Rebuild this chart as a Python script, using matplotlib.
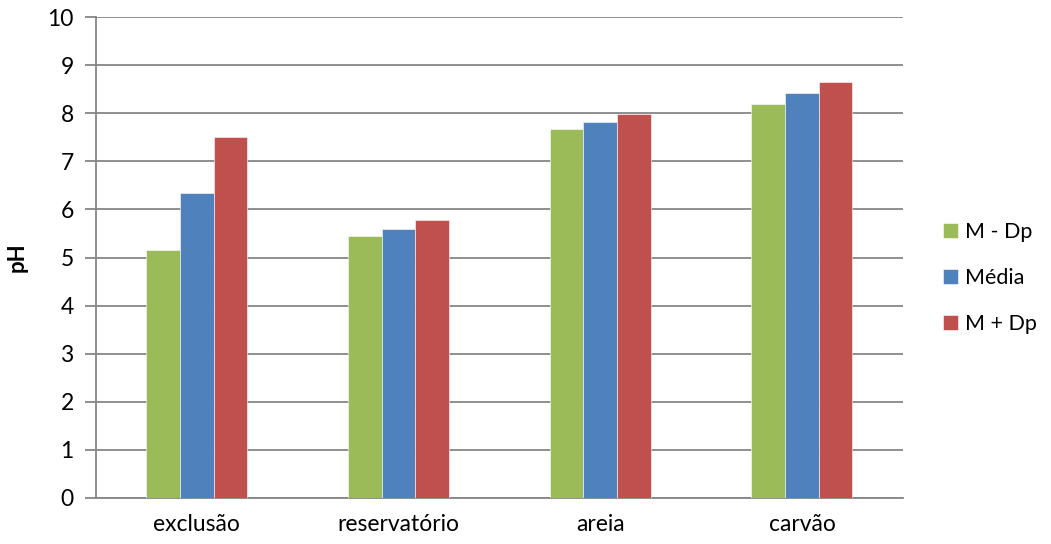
import matplotlib
matplotlib.use("Agg")
import matplotlib.pyplot as plt
import numpy as np

plt.rcParams['font.family'] = ['Lato', 'DejaVu Sans']

categories = ["exclusão", "reservatório", "areia", "carvão"]
series_names = ["M - Dp", "Média", "M + Dp"]
m_minus_dp = [5.16, 5.44, 7.67, 8.19]
media = [6.34, 5.60, 7.83, 8.42]
m_plus_dp = [7.51, 5.78, 7.99, 8.65]
colors = ["#9BBB59", "#4F81BD", "#C0504D"]

fig = plt.figure(figsize=(10.51, 5.44), dpi=100)
ax = fig.add_axes([0.0913, 0.0851, 0.7677, 0.8831])

x = np.arange(len(categories))
w = 0.167
for i, (vals, name, c) in enumerate(zip([m_minus_dp, media, m_plus_dp], series_names, colors)):
    ax.bar(x + (i - 1) * w, vals, width=w, color=c, label=name, zorder=3,
           edgecolor='white', linewidth=0.4)

ax.set_xlim(-0.5, len(categories) - 0.5)
ax.set_ylim(0, 10)
ax.set_yticks(range(0, 11))
ax.set_xticks(x)
ax.set_xticklabels(categories)
ax.yaxis.grid(True, color='#868686', linewidth=1.3, zorder=0)
for s in ['top', 'right']:
    ax.spines[s].set_visible(False)
ax.spines['left'].set_color('#868686')
ax.spines['bottom'].set_color('#868686')
ax.spines['left'].set_linewidth(1.3)
ax.spines['bottom'].set_linewidth(1.3)
ax.tick_params(axis='y', length=8, width=1.3, color='#868686', labelsize=16.5, pad=8)
ax.tick_params(axis='x', length=0, labelsize=16.5, pad=12)
ax.set_ylabel("pH", fontsize=16, fontweight='bold', labelpad=14)

leg = ax.legend(loc='center left', bbox_to_anchor=(1.026, 0.457), frameon=False,
                fontsize=15.5, handlelength=0.7, handleheight=0.7,
                labelspacing=1.2, handletextpad=0.3)

fig.savefig("out.png", dpi=100)
